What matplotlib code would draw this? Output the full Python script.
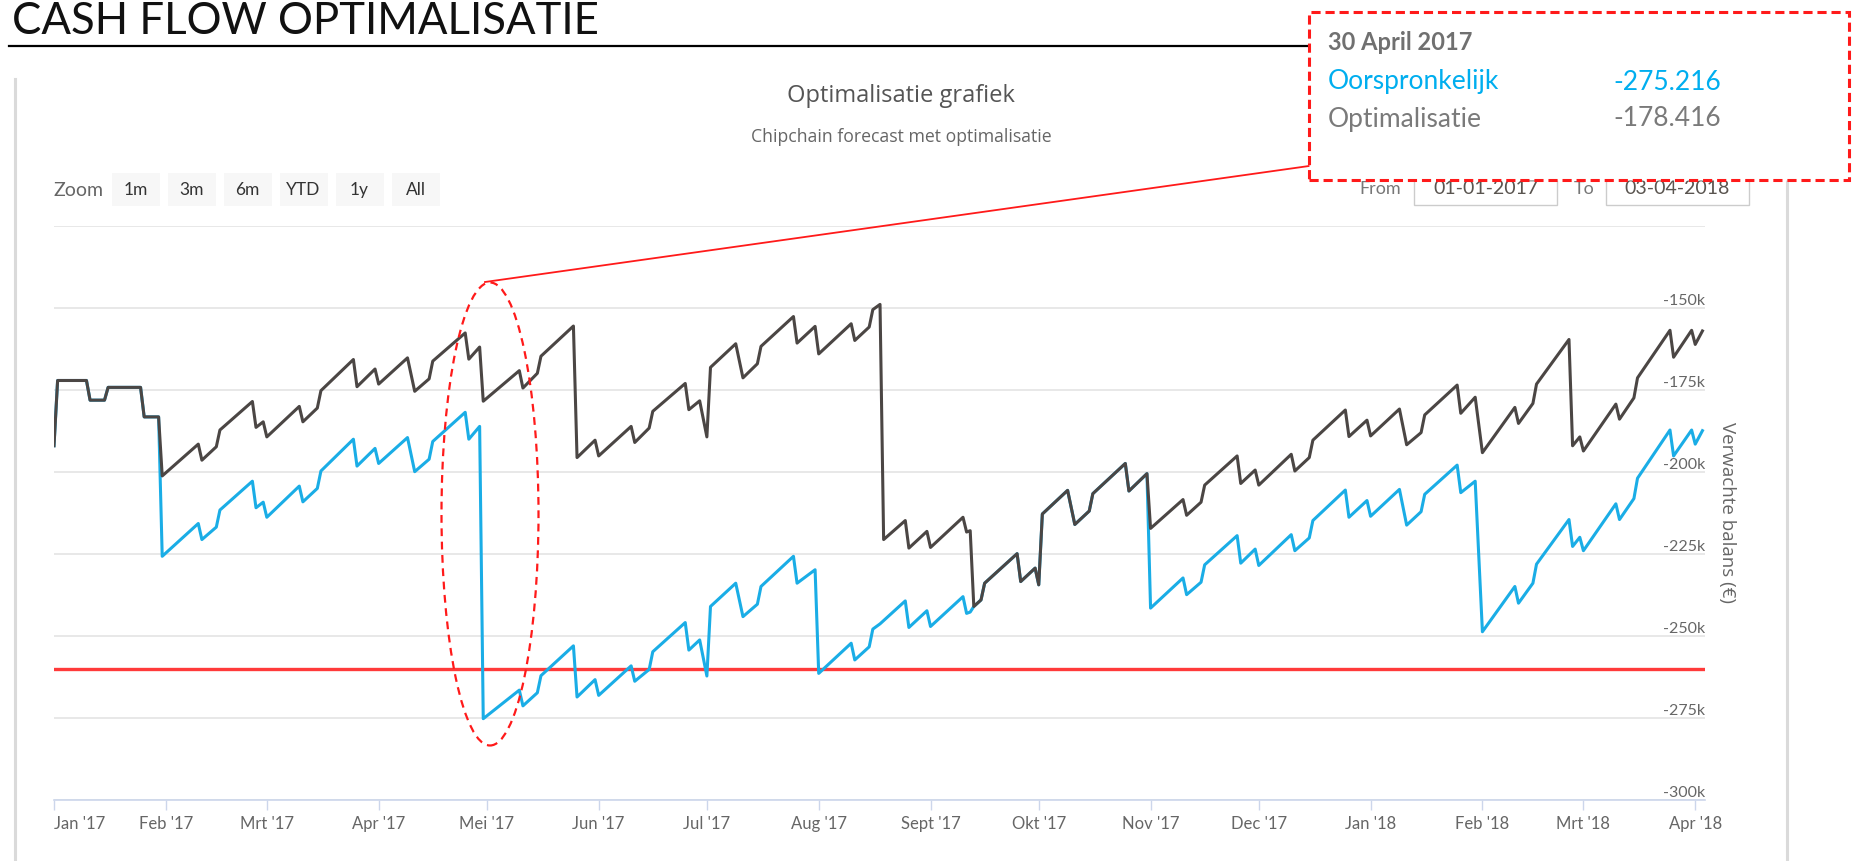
import matplotlib
matplotlib.use('Agg')
import matplotlib.pyplot as plt
import pandas as pd
from matplotlib.lines import Line2D
from matplotlib.patches import Rectangle, Ellipse

plt.rcParams['font.family'] = ['Lato', 'DejaVu Sans']

W, H = 1859, 861

# dagelijkse balans (k EUR)
dates = [
  '2017-01-01', '2017-01-02', '2017-01-10', '2017-01-11', '2017-01-15', '2017-01-16',
  '2017-01-25', '2017-01-26', '2017-01-30', '2017-01-31', '2017-02-10', '2017-02-11',
  '2017-02-15', '2017-02-16', '2017-02-25', '2017-02-26', '2017-02-28', '2017-03-01',
  '2017-03-10', '2017-03-11', '2017-03-15', '2017-03-16', '2017-03-25', '2017-03-26',
  '2017-03-31', '2017-04-01', '2017-04-09', '2017-04-11', '2017-04-15', '2017-04-16',
  '2017-04-25', '2017-04-26', '2017-04-29', '2017-04-30', '2017-05-10', '2017-05-11',
  '2017-05-15', '2017-05-16', '2017-05-25', '2017-05-26', '2017-05-31', '2017-06-01',
  '2017-06-10', '2017-06-11', '2017-06-15', '2017-06-16', '2017-06-25', '2017-06-26',
  '2017-06-29', '2017-07-01', '2017-07-02', '2017-07-09', '2017-07-11', '2017-07-15',
  '2017-07-16', '2017-07-25', '2017-07-26', '2017-07-31', '2017-08-01', '2017-08-10',
  '2017-08-11', '2017-08-15', '2017-08-16', '2017-08-18', '2017-08-19', '2017-08-25',
  '2017-08-26', '2017-08-31', '2017-09-01', '2017-09-10', '2017-09-11', '2017-09-12',
  '2017-09-13', '2017-09-15', '2017-09-16', '2017-09-25', '2017-09-26', '2017-09-30',
  '2017-10-01', '2017-10-02', '2017-10-09', '2017-10-11', '2017-10-15', '2017-10-16',
  '2017-10-25', '2017-10-26', '2017-10-31', '2017-11-01', '2017-11-10', '2017-11-11',
  '2017-11-15', '2017-11-16', '2017-11-25', '2017-11-26', '2017-11-30', '2017-12-01',
  '2017-12-10', '2017-12-11', '2017-12-15', '2017-12-16', '2017-12-25', '2017-12-26',
  '2017-12-31', '2018-01-01', '2018-01-09', '2018-01-11', '2018-01-15', '2018-01-16',
  '2018-01-25', '2018-01-26', '2018-01-30', '2018-02-01', '2018-02-10', '2018-02-11',
  '2018-02-15', '2018-02-16', '2018-02-25', '2018-02-26', '2018-02-28', '2018-03-01',
  '2018-03-10', '2018-03-11', '2018-03-15', '2018-03-16', '2018-03-25', '2018-03-26',
  '2018-03-31', '2018-04-01', '2018-04-03',
]

optimalisatie = [
  -192.0, -172.1, -172.1, -178.1, -178.1, -174.2,
  -174.2, -183.2, -183.2, -201.2, -191.5, -196.4,
  -192.3, -187.2, -178.5, -186.4, -184.7, -189.3,
  -180.0, -184.7, -180.5, -175.2, -165.7, -174.0,
  -168.6, -173.2, -165.2, -175.4, -171.6, -166.2,
  -157.6, -165.6, -161.9, -178.416, -169.1, -174.4,
  -169.9, -164.7, -155.5, -195.6, -190.3, -195.1,
  -186.1, -191.0, -186.6, -181.5, -173.0, -181.0,
  -178.3, -189.3, -168.1, -160.9, -171.3, -167.0,
  -161.7, -152.6, -160.7, -155.6, -164.0, -154.8,
  -159.9, -155.8, -150.5, -148.9, -220.6, -214.8,
  -223.2, -218.1, -223.0, -213.8, -218.3, -217.9,
  -241.0, -239.0, -233.9, -224.9, -233.4, -229.3,
  -234.4, -212.8, -205.6, -216.0, -211.9, -206.6,
  -197.4, -205.8, -200.5, -217.2, -208.4, -213.2,
  -209.2, -204.0, -195.1, -203.5, -199.4, -204.0,
  -194.6, -199.7, -195.6, -190.3, -181.1, -189.2,
  -184.2, -189.0, -180.8, -191.7, -188.0, -182.6,
  -173.5, -182.1, -177.2, -194.1, -180.3, -185.2,
  -179.1, -173.2, -159.6, -192.0, -189.3, -193.6,
  -179.3, -183.9, -177.4, -171.3, -156.8, -165.0,
  -156.8, -161.1, -157.0,
]

oorspronkelijk = [
  -192.0, -172.1, -172.1, -178.1, -178.1, -174.2,
  -174.2, -183.2, -183.2, -225.7, -215.7, -220.6,
  -216.8, -211.6, -202.8, -210.9, -209.2, -213.8,
  -204.3, -209.1, -205.0, -199.7, -190.0, -198.2,
  -192.8, -197.4, -189.5, -199.9, -196.1, -190.7,
  -181.8, -190.0, -186.1, -275.216, -266.5, -271.3,
  -267.3, -262.1, -253.0, -268.6, -263.3, -268.1,
  -259.1, -263.8, -260.2, -254.8, -245.9, -254.3,
  -251.2, -262.2, -241.0, -233.9, -244.1, -240.3,
  -234.9, -225.7, -233.9, -229.8, -261.4, -252.2,
  -257.3, -253.3, -247.9, -246.3, -245.3, -239.3,
  -247.4, -242.3, -247.1, -238.0, -243.1, -242.7,
  -241.0, -239.0, -233.9, -224.9, -233.4, -229.3,
  -234.4, -212.8, -205.6, -216.0, -211.9, -206.6,
  -197.4, -205.8, -200.5, -241.5, -232.3, -237.4,
  -233.6, -228.3, -219.4, -227.8, -223.5, -228.5,
  -219.1, -224.0, -220.1, -214.8, -205.5, -213.8,
  -208.7, -213.5, -205.3, -216.2, -212.1, -206.8,
  -197.9, -206.3, -202.8, -248.7, -234.9, -240.0,
  -233.9, -228.1, -214.5, -222.7, -219.9, -224.0,
  -209.7, -214.5, -208.1, -201.9, -187.2, -195.1,
  -187.2, -191.5, -187.4,
]

grens = -260

maand_ticks = ['2017-01-01', '2017-02-01', '2017-03-01', '2017-04-01', '2017-05-01',
               '2017-06-01', '2017-07-01', '2017-08-01', '2017-09-01', '2017-10-01',
               '2017-11-01', '2017-12-01', '2018-01-01', '2018-02-01', '2018-03-01',
               '2018-04-01']
maand_labels = ["Jan '17", "Feb '17", "Mrt '17", "Apr '17", "Mei '17", "Jun '17",
                "Jul '17", "Aug '17", "Sept '17", "Okt '17", "Nov '17", "Dec '17",
                "Jan '18", "Feb '18", "Mrt '18", "Apr '18"]
y_ticks = [-300, -275, -250, -225, -200, -175, -150, -125]
y_labels = ['-300k', '-275k', '-250k', '-225k', '-200k', '-175k', '-150k', '']

zoom_knoppen = ['1m', '3m', '6m', 'YTD', '1y', 'All']
periode = ['01-01-2017', '03-04-2018']
tooltip_datum = '30 April 2017'
tooltip_namen = ['Oorspronkelijk', 'Optimalisatie']
tooltip_waarden = ['-275.216', '-178.416']

BLAUW = '#1aade6'
GRIJS = '#4b4644'
ROOD = '#ff1a1a'
OPEN = ['Open Sans', 'DejaVu Sans']


def fx(px):
  return px / W


def fy(py):
  return 1 - py / H


fig = plt.figure(figsize=(W / 100, H / 100), dpi=100)
fig.patch.set_facecolor('white')

# ---- plot area
ax = fig.add_axes([fx(54), fy(800), fx(1705) - fx(54), fy(226) - fy(800)])
x = pd.to_datetime(dates)
ax.plot(x, oorspronkelijk, color=BLAUW, lw=2.2, zorder=3)
ax.plot(x, optimalisatie, color=GRIJS, lw=2.2, zorder=4)
ax.axhline(grens, color='#ff3a3a', lw=2.4, zorder=2.5)

ax.set_xlim(pd.Timestamp('2017-01-01'), pd.Timestamp('2018-04-03 17:00'))
ax.set_ylim(-300, -125)

ax.set_yticks(y_ticks)
ax.set_yticklabels(y_labels)
ax.grid(axis='y', color='#e6e6e6', lw=1.3)
ax.set_axisbelow(True)
ax.yaxis.tick_right()
ax.tick_params(axis='y', length=0, pad=0, labelsize=11.5, labelcolor='#666666')
for lab in ax.get_yticklabels():
  lab.set_horizontalalignment('right')
  lab.set_verticalalignment('bottom')

ax.yaxis.set_label_position('right')
ax.set_ylabel('Verwachte balans (€)', rotation=-90, fontsize=13.5, color='#666666',
              ha='center', va='center', family=OPEN)
ax.yaxis.set_label_coords(1.0133, 0.5)

ax.set_xticks(pd.to_datetime(maand_ticks))
ax.set_xticklabels(maand_labels)
ax.tick_params(axis='x', length=7.5, width=1, color='#ccd6eb', pad=4,
               labelsize=12, labelcolor='#666666')
ax.get_xticklabels()[0].set_horizontalalignment('left')

for side in ['top', 'left', 'right']:
  ax.spines[side].set_visible(False)
ax.spines['bottom'].set_color('#ccd6eb')
ax.spines['bottom'].set_linewidth(1.2)
ax.patch.set_alpha(0)

# ---- page header
fig.text(fx(12), fy(33.5), 'CASH FLOW OPTIMALISATIE', fontsize=31.5, weight='normal',
         color='#111111', va='baseline', ha='left')
fig.add_artist(Line2D([fx(9), fx(1320)], [fy(46), fy(46)], color='black', lw=1.6))

# chart container edges
for px in [15, 1787]:
  fig.add_artist(Line2D([fx(px), fx(px)], [fy(79), fy(861)], color='#dadada', lw=2.2))

fig.text(fx(901), fy(96), 'Optimalisatie grafiek', ha='center', va='center',
         fontsize=17, color='#555555', family=OPEN)
fig.text(fx(901), fy(137), 'Chipchain forecast met optimalisatie', ha='center',
         va='center', fontsize=12.7, color='#666666', family=OPEN)

# range selector
fig.text(fx(54), fy(190), 'Zoom', ha='left', va='center', fontsize=14, color='#666666')
for i, knop in enumerate(zoom_knoppen):
  left = 111.5 + i * 56
  fig.add_artist(Rectangle((fx(left), fy(206)), 48 / W, 33 / H,
                           transform=fig.transFigure, facecolor='#f7f7f7',
                           edgecolor='none'))
  fig.text(fx(left + 24), fy(190), knop, ha='center', va='center', fontsize=12.5,
           color='#333333')

fig.text(fx(1359), fy(189), 'From', ha='left', va='center', fontsize=13, color='#777777')
fig.text(fx(1574), fy(189), 'To', ha='left', va='center', fontsize=13, color='#777777')
for left, tekst in zip([1414, 1606], periode):
  fig.add_artist(Rectangle((fx(left), fy(205)), 143 / W, 37 / H,
                           transform=fig.transFigure, facecolor='white',
                           edgecolor='#cccccc', lw=1))
  fig.text(fx(left + 71.5), fy(189), tekst, ha='center', va='center', fontsize=14,
           color='#5a5550')

# ---- annotation
fig.add_artist(Ellipse((fx(490), fy(514)), 97 / W, 463 / H, transform=fig.transFigure,
                       fill=False, edgecolor=ROOD, lw=1.6, ls=(0, (3.5, 2.5)),
                       zorder=6))
fig.add_artist(Line2D([fx(485), fx(1309)], [fy(282), fy(166)], color=ROOD, lw=1.3,
                      zorder=6))
fig.add_artist(Rectangle((fx(1309), fy(180)), 540 / W, 168 / H,
                         transform=fig.transFigure, facecolor='white',
                         edgecolor=ROOD, lw=2.2, ls=(0, (3, 1.6)), zorder=7))
fig.text(fx(1328), fy(43), tooltip_datum, ha='left', va='center', fontsize=17,
         weight='bold', color='#707070', zorder=8)
for i, (naam, waarde, kleur) in enumerate(zip(tooltip_namen, tooltip_waarden,
                                              ['#00aeef', '#7a7a7a'])):
  yy = 82 + i * 37
  fig.text(fx(1328), fy(yy), naam, ha='left', va='center', fontsize=19, color=kleur,
           zorder=8)
  fig.text(fx(1613), fy(yy), waarde, ha='left', va='center', fontsize=19, color=kleur,
           zorder=8)

fig.savefig('out.png', dpi=100)
